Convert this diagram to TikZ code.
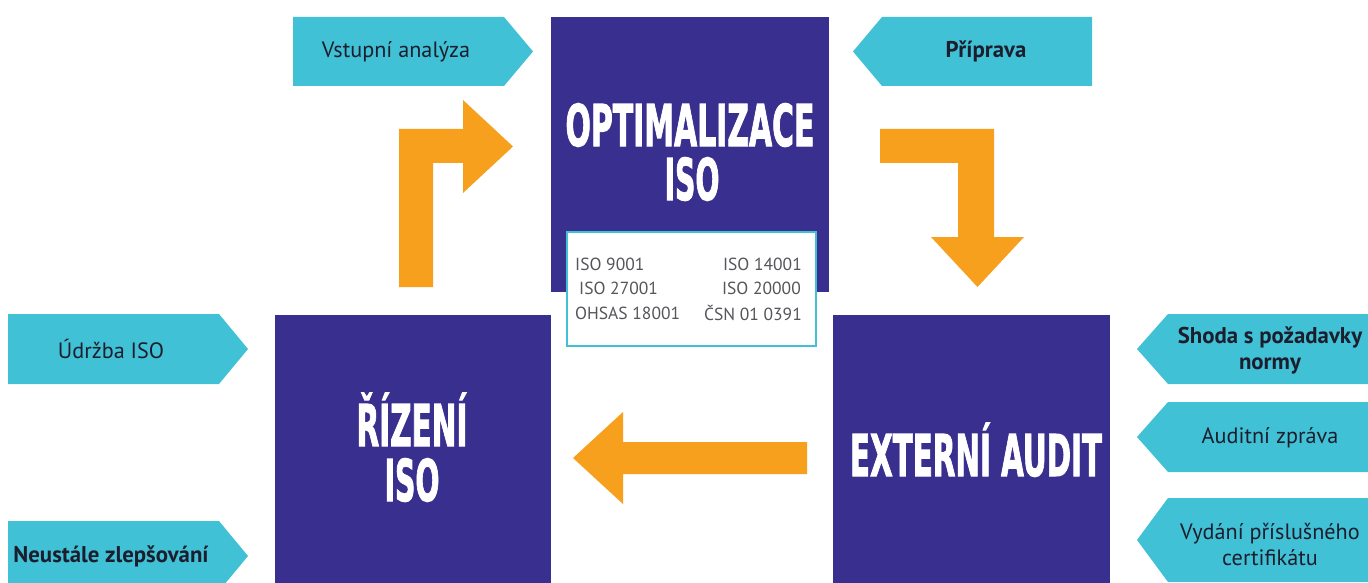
\documentclass[tikz,border=0pt]{standalone}
\usepackage{fontspec}
\usepackage{graphicx}
\setmainfont{PT Sans}
\newfontfamily\hdfont{DejaVu Sans Condensed}[FakeBold=2]
\definecolor{boxc}{RGB}{57,47,143}
\definecolor{tagc}{RGB}{64,193,213}
\definecolor{arrc}{RGB}{247,160,30}
\definecolor{tagtxt}{RGB}{28,30,45}
\definecolor{listtxt}{RGB}{85,85,90}
\newcommand\hd[2]{\resizebox{#1}{42pt}{\hdfont\bfseries\fontsize{50pt}{50pt}\selectfont\vphantom{I}\smash{#2}}}
\tikzset{
  bigbox/.style={fill=boxc},
  tagshape/.style={fill=tagc},
  blockarrow/.style={fill=arrc},
  tagtext/.style={inner sep=0pt, text=tagtxt, font=\fontsize{22.2}{26}\selectfont, align=center},
  tagbold/.style={tagtext, font=\fontsize{22.8}{26}\selectfont\bfseries},
  listtext/.style={inner sep=0pt, text=listtxt, font=\fontsize{17.5}{20}\selectfont},
  headtext/.style={inner sep=0pt, text=white}
}
\begin{document}
\begin{tikzpicture}[x=1pt,y=-1pt]
\useasboundingbox (0,0) rectangle (1368,583);
% main boxes
\fill[bigbox] (551,17) rectangle (829,292);
\fill[bigbox] (275,315) rectangle (551,583);
\fill[bigbox] (833,315) rectangle (1110,583);
% list box
\node[draw=tagc, line width=2pt, fill=white, minimum width=249pt, minimum height=114pt, inner sep=0pt, anchor=north west] (list) at (566,231) {};
% headings
\node[headtext] (h1a) at (690,125) {\hd{249pt}{OPTIMALIZACE}};
\node[headtext] (h1b) at (692,179) {\hd{55pt}{ISO}};
\node[headtext] (h2a) at (412,425) {\hd{111pt}{ŘÍZENÍ}};
\node[headtext] (h2b) at (412,480) {\hd{55pt}{ISO}};
\node[headtext] (h3) at (976,455) {\hd{252pt}{EXTERNÍ AUDIT}};
% list entries
\node[listtext, anchor=west] (l1) at (575,264) {ISO 9001};
\node[listtext, anchor=west] (l2) at (579,288) {ISO 27001};
\node[listtext, anchor=west] (l3) at (575,313) {OHSAS 18001};
\node[listtext, anchor=east] (r1) at (802,264) {ISO 14001};
\node[listtext, anchor=east] (r2) at (801,288) {ISO 20000};
\node[listtext, anchor=east] (r3) at (802,313) {ČSN 01 0391};
% tags pointing right
\fill[tagshape] (293,17) -- (504,17) -- (533,51.5) -- (504,86) -- (293,86) -- cycle;
\fill[tagshape] (8,314) -- (219,314) -- (248,349) -- (219,384) -- (8,384) -- cycle;
\fill[tagshape] (8,521) -- (219,521) -- (248,556) -- (219,591) -- (8,591) -- cycle;
% tags pointing left
\fill[tagshape] (1092,17) -- (882,17) -- (853,51.5) -- (882,86) -- (1092,86) -- cycle;
\fill[tagshape] (1370,314) -- (1168,314) -- (1137,349) -- (1168,384) -- (1370,384) -- cycle;
\fill[tagshape] (1370,402) -- (1168,402) -- (1137,437) -- (1168,472) -- (1370,472) -- cycle;
\fill[tagshape] (1370,498) -- (1168,498) -- (1137,540) -- (1168,582) -- (1370,582) -- cycle;
% tag texts
\node[tagtext] (t1) at (396,51.5) {Vstupní analýza};
\node[tagbold] (t2) at (986,51.5) {Příprava};
\node[tagtext] (t3) at (111,349) {Údržba ISO};
\node[tagbold] (t4) at (111,556) {Neustále zlepšování};
\node[tagbold] (t5) at (1270,350) {Shoda s požadavky\\normy};
\node[tagtext] (t6) at (1270,438) {Auditní zpráva};
\node[tagtext] (t7) at (1270,545) {Vydání příslušného\\certifikátu};
% orange block arrows
\fill[blockarrow] (399,287) -- (399,129) -- (463,129) -- (463,100) -- (513,146.5) -- (463,193) -- (463,163) -- (433,163) -- (433,287) -- cycle;
\fill[blockarrow] (880,129) -- (994,129) -- (994,237) -- (1024,237) -- (977.5,287) -- (931,237) -- (958,237) -- (958,163) -- (880,163) -- cycle;
\fill[blockarrow] (807,442) -- (623,442) -- (623,412) -- (573,458) -- (623,504) -- (623,474) -- (807,474) -- cycle;
\end{tikzpicture}
\end{document}
